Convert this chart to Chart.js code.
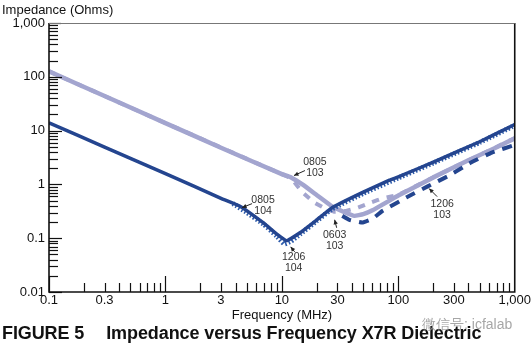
<!DOCTYPE html>
<html>
<head>
<meta charset="utf-8">
<title>Impedance versus Frequency X7R Dielectric</title>
<script src="https://cdn.jsdelivr.net/npm/chart.js@4.4.1/dist/chart.umd.min.js"></script>
<style>
  html, body { margin: 0; padding: 0; background: #fff; }
  #wrap { position: relative; width: 532px; height: 347px; font-family: "Liberation Sans", Arial, sans-serif; color: #111; }
  #chart { position: absolute; left: 0; top: 0; }
  .ytitle { position: absolute; left: 2px; top: 2px; font-size: 13px; line-height: 15px; }
  .xtitle { position: absolute; left: 182px; width: 200px; top: 307px; text-align: center; font-size: 13px; line-height: 15px; }
  .caption { position: absolute; left: 2px; top: 324px; font-size: 18px; line-height: 19px; font-weight: bold; white-space: nowrap; letter-spacing: -0.1px; }
  .caption span { margin-left: 22px; }
  .mark { position: absolute; left: 422px; top: 316px; font-size: 14px; line-height: 16px; color: rgba(150,150,150,0.85); white-space: nowrap; }
</style>
</head>
<body>
<div id="wrap">
  <canvas id="chart" width="532" height="347"></canvas>
  <div class="ytitle">Impedance (Ohms)</div>
  <div class="xtitle">Frequency (MHz)</div>
  <div class="caption">FIGURE 5<span>Impedance versus Frequency X7R Dielectric</span></div>
  <div class="mark">微信号: icfalab</div>
</div>
<script>
// ── Data (frequency in MHz, impedance in ohms) ────────────────
const xTicks = [0.1, 0.3, 1, 3, 10, 30, 100, 300, 1000];
const yTicks = [0.01, 0.1, 1, 10, 100, 1000];

// 0805 / 103 — light, solid
const f0805_103 = [0.1, 0.3, 1, 3, 10, 12, 15, 20, 27, 35, 42, 50, 60, 84, 100, 200, 400, 700, 1000];
const z0805_103 = [126, 44, 13.8, 4.8, 1.55, 1.35, 1.0, 0.63, 0.39, 0.30, 0.26, 0.28, 0.33, 0.5, 0.62, 1.35, 2.8, 4.9, 7.2];

// 0603 / 103 — light, dashed
const f0603_103 = [0.1, 1, 10, 12, 15, 19, 24, 28.5, 35, 45, 58, 75, 100, 200, 400, 1000];
const z0603_103 = [126, 13.8, 1.55, 1.3, 0.72, 0.46, 0.35, 0.31, 0.32, 0.37, 0.46, 0.56, 0.64, 1.36, 2.8, 7.2];

// 1206 / 103 — dark, dashed
const f1206_103 = [33, 38, 49, 60, 73, 117, 177, 273, 421, 636, 1000];
const z1206_103 = [0.26, 0.22, 0.195, 0.23, 0.32, 0.57, 0.91, 1.46, 2.55, 3.9, 5.4];

// 0805 / 104 — dark, solid
const f0805_104 = [0.1, 0.3, 1, 3, 4.4, 7, 9, 11, 14.3, 20, 27, 50, 84, 100, 200, 500, 1000];
const z0805_104 = [14, 4.95, 1.59, 0.55, 0.39, 0.19, 0.12, 0.09, 0.126, 0.22, 0.37, 0.72, 1.2, 1.38, 2.6, 6.2, 13];

// 1206 / 104 — dark, dotted
const f1206_104 = [3.8, 5, 7, 9, 10.5, 12, 14.3, 20, 27, 50, 100, 200, 500, 1000];
const z1206_104 = [0.44, 0.3, 0.18, 0.11, 0.078, 0.088, 0.118, 0.21, 0.35, 0.68, 1.32, 2.5, 6.0, 12.5];

const LIGHT = '#a3a5cf';
const DARK  = '#24458f';
const DOTS  = '#2d5bab';

const pts = (fs, zs) => fs.map((f, i) => ({ x: f, y: zs[i] }));
const fmt = v => v >= 1000 ? v.toLocaleString('en-US') : String(v);

// ── Callouts: arrow tip in data units, tail/text as pixel offsets ─
const callouts = [
  { lines: ['0805', '103'], f: 12.7, z: 1.46, tail: [11, -5], text: [21, -13] },
  { lines: ['0805', '104'], f: 4.55, z: 0.37, tail: [10, -4], text: [21, -8] },
  { lines: ['0603', '103'], f: 28.4, z: 0.22, tail: [2, 8],   text: [0, 15] },
  { lines: ['1206', '104'], f: 11.9, z: 0.069, tail: [4, 5],  text: [3, 10] },
  { lines: ['1206', '103'], f: 184,  z: 0.835, tail: [8, 8],  text: [13, 15] }
];

// ── Frame, inside ticks and callouts ─────────────────────────
const frameTicks = {
  id: 'frameTicks',
  afterDatasetsDraw(chart) {
    const { ctx, chartArea: a, scales: { x, y } } = chart;
    ctx.save();
    ctx.strokeStyle = '#111';
    ctx.lineWidth = 1.2;

    // x ticks (pointing up)
    for (let e = Math.round(Math.log10(x.min)); e < Math.round(Math.log10(x.max)); e++) {
      for (let m = 1; m < 10; m++) {
        const px = Math.round(x.getPixelForValue(m * 10 ** e)) + 0.5;
        const len = m === 1 ? 16 : 9;
        ctx.beginPath();
        ctx.moveTo(px, a.bottom);
        ctx.lineTo(px, a.bottom - len);
        ctx.stroke();
      }
    }
    // y ticks (pointing right)
    for (let e = Math.round(Math.log10(y.min)); e < Math.round(Math.log10(y.max)); e++) {
      for (let m = 1; m < 10; m++) {
        const py = Math.round(y.getPixelForValue(m * 10 ** e)) + 0.5;
        const len = m === 1 ? 13 : 9;
        ctx.beginPath();
        ctx.moveTo(a.left, py);
        ctx.lineTo(a.left + len, py);
        ctx.stroke();
      }
    }
    const topY = Math.round(y.getPixelForValue(y.max)) + 0.5;
    ctx.beginPath();
    ctx.moveTo(a.left, topY);
    ctx.lineTo(a.left + 12, topY);
    ctx.stroke();

    // frame
    ctx.lineWidth = 1.6;
    ctx.beginPath();
    ctx.moveTo(a.left, a.top);
    ctx.lineTo(a.left, a.bottom);
    ctx.lineTo(a.right, a.bottom);
    ctx.lineTo(a.right, a.top);
    ctx.stroke();
    ctx.strokeStyle = '#777';
    ctx.lineWidth = 1;
    ctx.beginPath();
    ctx.moveTo(a.left, a.top + 0.5);
    ctx.lineTo(a.right, a.top + 0.5);
    ctx.stroke();

    // callouts
    ctx.font = '10.5px "Liberation Sans", Arial, sans-serif';
    ctx.textAlign = 'center';
    ctx.textBaseline = 'middle';
    callouts.forEach(c => {
      const tx = x.getPixelForValue(c.f);
      const ty = y.getPixelForValue(c.z);
      const sx = tx + c.tail[0], sy = ty + c.tail[1];
      ctx.strokeStyle = '#222';
      ctx.fillStyle = '#222';
      ctx.lineWidth = 1;
      ctx.beginPath();
      ctx.moveTo(sx, sy);
      ctx.lineTo(tx, ty);
      ctx.stroke();
      const ang = Math.atan2(ty - sy, tx - sx);
      ctx.beginPath();
      ctx.moveTo(tx, ty);
      ctx.lineTo(tx - 5 * Math.cos(ang - 0.45), ty - 5 * Math.sin(ang - 0.45));
      ctx.lineTo(tx - 5 * Math.cos(ang + 0.45), ty - 5 * Math.sin(ang + 0.45));
      ctx.closePath();
      ctx.fill();
      ctx.fillStyle = '#333';
      c.lines.forEach((t, i) => ctx.fillText(t, tx + c.text[0], ty + c.text[1] + i * 11));
    });
    ctx.restore();
  }
};

// ── Chart ────────────────────────────────────────────────────
Chart.defaults.font.family = '"Liberation Sans", Arial, sans-serif';
Chart.defaults.color = '#111';

new Chart(document.getElementById('chart'), {
  type: 'line',
  data: {
    datasets: [
      { label: '0805 104', data: pts(f0805_104, z0805_104), borderColor: DARK,  borderWidth: 3.5, order: 1 },
      { label: '1206 104', data: pts(f1206_104, z1206_104), borderColor: DOTS,  borderWidth: 5, borderDash: [1.5, 2], order: 2 },
      { label: '1206 103', data: pts(f1206_103, z1206_103), borderColor: DARK,  borderWidth: 4, borderDash: [10, 8], order: 3 },
      { label: '0603 103', data: pts(f0603_103, z0603_103), borderColor: LIGHT, borderWidth: 4, borderDash: [7, 8], order: 4 },
      { label: '0805 103', data: pts(f0805_103, z0805_103), borderColor: LIGHT, borderWidth: 4.5, order: 5 }
    ]
  },
  options: {
    responsive: false,
    animation: false,
    layout: { padding: { left: 0, top: 23, right: 17, bottom: 0 } },
    elements: { point: { radius: 0 }, line: { tension: 0.1, borderCapStyle: 'butt', borderJoinStyle: 'round' } },
    plugins: { legend: { display: false }, tooltip: { enabled: false } },
    scales: {
      x: {
        type: 'logarithmic',
        min: 0.1,
        max: 1000,
        afterBuildTicks: s => { s.ticks = xTicks.map(v => ({ value: v })); },
        afterFit: s => { s.height = 55; },
        grid: { display: false, drawTicks: false },
        border: { display: false },
        ticks: { autoSkip: false, maxRotation: 0, padding: 1, font: { size: 13 }, callback: v => fmt(v) }
      },
      y: {
        type: 'logarithmic',
        min: 0.01,
        max: 1000,
        afterBuildTicks: s => { s.ticks = yTicks.map(v => ({ value: v })); },
        afterFit: s => { s.width = 49; },
        grid: { display: false, drawTicks: false },
        border: { display: false },
        ticks: { autoSkip: false, padding: 4, font: { size: 13 }, callback: v => fmt(v) }
      }
    }
  },
  plugins: [frameTicks]
});
</script>
</body>
</html>
